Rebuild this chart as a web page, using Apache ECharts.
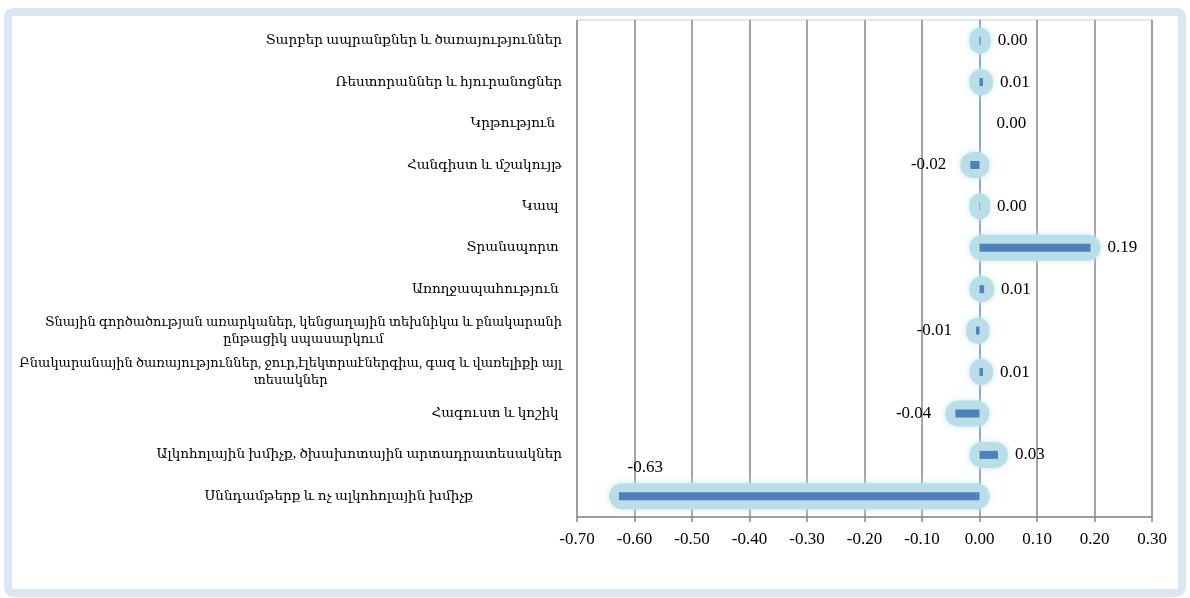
<!DOCTYPE html>
<html><head><meta charset="utf-8">
<script src="https://cdn.jsdelivr.net/npm/echarts@6/dist/echarts.min.js"></script>
<style>html,body{margin:0;padding:0;background:#fff}#c{width:1190px;height:598px}</style>
</head><body><div id="c"></div>
<script>
const categories = [
  "Տարբեր ապրանքներ և ծառայություններ",
  "Ռեստորաններ և հյուրանոցներ",
  "Կրթություն  ",
  "Հանգիստ և մշակույթ",
  "Կապ ",
  "Տրանսպորտ ",
  "Առողջապահություն ",
  "Տնային գործածության առարկաներ, կենցաղային տեխնիկա և բնակարանի\nընթացիկ սպասարկում",
  "Բնակարանային ծառայություններ, ջուր,էլեկտրաէներգիա, գազ և վառելիքի այլ\nտեսակներ",
  "Հագուստ և կոշիկ ",
  "Ալկոհոլային խմիչք, ծխախոտային արտադրատեսակներ",
  "Սննդամթերք և ոչ ալկոհոլային խմիչք"
];
const values = [0.002, 0.006, 0, -0.016, 0.001, 0.193, 0.008, -0.006, 0.006, -0.042, 0.032, -0.627];
const xTicks = {min: -0.7, max: 0.3, interval: 0.1};

const serif = "'Liberation Serif','DejaVu Serif',serif";
const chart = echarts.init(document.getElementById('c'), null, {renderer: 'canvas'});

const minVal = Math.min.apply(null, values);
const barData = values.map(function (v) {
  let label;
  if (v === minVal) {
    label = {position: 'left', distance: 0, offset: [44, -29]};
  } else if (v < 0) {
    label = {position: 'left', distance: 24};
  } else {
    label = {position: 'right', distance: 17};
  }
  return {value: v, label: label};
});
const glowData = values.map(function (v, i) { return [v, i]; });

chart.setOption({
  animation: false,
  graphic: [{
    type: 'rect', z: -10, silent: true,
    shape: {x: 8, y: 12, width: 1174, height: 581, r: 5},
    style: {fill: '#ffffff', stroke: '#dce6f2', lineWidth: 8}
  }],
  grid: {left: 577, right: 38, top: 20, bottom: 81, show: true, borderColor: '#c6ccd8', borderWidth: 1, backgroundColor: 'transparent'},
  xAxis: {
    type: 'value', min: xTicks.min, max: xTicks.max, interval: xTicks.interval,
    axisLine: {show: true, onZero: false, lineStyle: {color: '#868686', width: 1.5}},
    axisTick: {show: true, length: 5, lineStyle: {color: '#868686', width: 1.5}},
    splitLine: {show: true, lineStyle: {color: '#868686', width: 1.5}},
    axisLabel: {color: '#000', fontFamily: serif, fontSize: 17, margin: 14,
      formatter: function (v) { return v.toFixed(2); }}
  },
  yAxis: {
    type: 'category', inverse: true, data: categories,
    axisLine: {show: true, onZero: true, lineStyle: {color: '#82a8dc', width: 1.5}},
    axisTick: {show: false},
    axisLabel: {
      color: '#000', fontFamily: serif, fontSize: 13.6, margin: 0, align: 'right',
      interval: 0, lineHeight: 17,
      formatter: function (val, idx) {
        const lines = val.split('\n');
        if (lines.length > 1) {
          return lines.map(function (l) { return '{c|' + l + '}'; }).join('\n');
        }
        if (idx === categories.length - 1) return '{f|' + val + '}';
        return '{r|' + val + '}';
      },
      rich: {
        c: {align: 'center', fontFamily: serif, fontSize: 13, color: '#000', lineHeight: 17, padding: [0, 15, 0, 0]},
        r: {fontFamily: serif, fontSize: 13.6, color: '#000', padding: [0, 15, 0, 0]},
        f: {fontFamily: serif, fontSize: 13.6, color: '#000', padding: [0, 104, 0, 0]}
      }
    }
  },
  series: [{
    type: 'custom', z: 1,
    data: glowData,
    encode: {x: 0, y: 1},
    renderItem: function (params, api) {
      const v = api.value(0);
      if (v === 0) return null;
      const i = api.value(1);
      const p0 = api.coord([0, i]);
      const p1 = api.coord([v, i]);
      const x0 = Math.min(p0[0], p1[0]);
      const x1 = Math.max(p0[0], p1[0]);
      return {
        type: 'rect',
        shape: {x: x0 - 10, y: p0[1] - 13, width: x1 - x0 + 20, height: 26, r: 13},
        style: {fill: '#b9dee8', shadowBlur: 7, shadowColor: '#c8e6ee'}
      };
    }
  }, {
    type: 'bar', z: 3,
    data: barData,
    barWidth: 8,
    itemStyle: {color: '#4f81bd'},
    label: {show: true, color: '#000', fontFamily: serif, fontSize: 17,
      formatter: function (p) { return p.value.toFixed(2); }}
  }]
});
</script></body></html>
